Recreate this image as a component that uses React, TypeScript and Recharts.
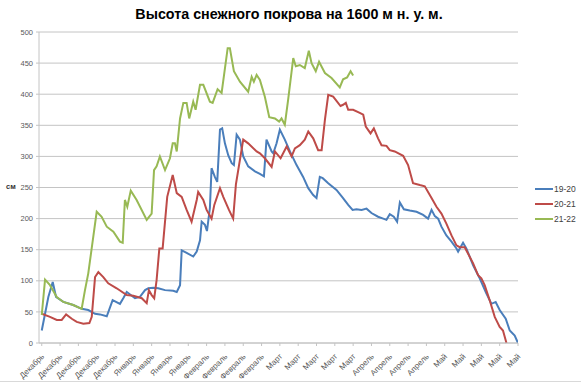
import React from 'react';
import { LineChart, Line, XAxis, YAxis, CartesianGrid } from 'recharts';

const titleText = 'Высота снежного покрова на 1600 м н. у. м.';
const yUnit = 'см';
const seriesNames = ['19-20', '20-21', '21-22'];
const seriesColors = ['#4A7EBB', '#BE4B48', '#98B954'];

const tickLabels = [
  'Декабрь', 'Декабрь', 'Декабрь', 'Декабрь', 'Декабрь',
  'Январь', 'Январь', 'Январь', 'Январь',
  'Февраль', 'Февраль', 'Февраль', 'Февраль',
  'Март', 'Март', 'Март', 'Март', 'Март',
  'Апрель', 'Апрель', 'Апрель', 'Апрель',
  'Май', 'Май', 'Май', 'Май', 'Май',
];
const yTicks = [0, 50, 100, 150, 200, 250, 300, 350, 400, 450, 500];

// positions in weeks (tick index) and snow depth in cm
const weeks1920 = [0, 0.36, 0.6, 0.78, 1.18, 1.72, 2.18, 2.54, 2.91, 3.18, 3.55, 3.87, 4.27, 4.45, 4.64, 5.09, 5.36, 5.64, 5.82, 6.09, 6.36, 6.73, 7.18, 7.37, 7.55, 7.64, 7.91, 8.27, 8.46, 8.64, 8.73, 8.91, 9.02, 9.18, 9.27, 9.45, 9.58, 9.73, 9.85, 10.0, 10.18, 10.37, 10.49, 10.64, 10.82, 11.0, 11.27, 11.64, 11.91, 12.13, 12.27, 12.55, 12.64, 12.82, 13.0, 13.27, 13.55, 13.91, 14.27, 14.55, 14.82, 15.0, 15.18, 15.34, 15.64, 16.09, 16.45, 16.73, 16.97, 17.18, 17.46, 17.73, 18.0, 18.36, 18.64, 18.82, 19.0, 19.22, 19.4, 19.55, 19.77, 20.09, 20.46, 20.82, 21.09, 21.28, 21.46, 21.64, 21.82, 22.09, 22.37, 22.64, 22.73, 23.0, 23.18, 23.55, 23.91, 24.27, 24.55, 24.78, 25.0, 25.33, 25.55, 25.82, 26.0];
const depth1920 = [20, 74, 98, 74, 66, 61, 55, 53, 47, 46, 43, 69, 63, 72, 82, 72, 74, 85, 88, 89, 88, 85, 84, 82, 93, 149, 145, 139, 147, 165, 195, 190, 180, 217, 281, 267, 259, 343, 345, 321, 302, 289, 286, 335, 327, 300, 284, 276, 272, 268, 327, 308, 305, 321, 343, 327, 308, 286, 267, 249, 238, 233, 267, 265, 257, 246, 233, 222, 214, 215, 214, 216, 209, 203, 200, 198, 207, 203, 195, 226, 215, 213, 211, 206, 200, 214, 204, 200, 187, 173, 163, 152, 147, 161, 152, 125, 104, 80, 63, 66, 53, 39, 20, 12, 0];

const weeks2021 = [0, 0.45, 0.82, 1.09, 1.33, 1.64, 1.91, 2.27, 2.6, 2.73, 2.91, 3.09, 3.36, 3.63, 4.09, 4.64, 5.0, 5.46, 5.73, 5.85, 6.0, 6.14, 6.27, 6.42, 6.6, 6.85, 7.15, 7.37, 7.64, 7.91, 8.18, 8.46, 8.54, 8.82, 9.0, 9.27, 9.42, 9.73, 9.91, 10.22, 10.45, 10.6, 11.0, 11.27, 11.73, 11.91, 12.18, 12.55, 12.73, 13.04, 13.37, 13.64, 13.82, 14.09, 14.36, 14.55, 14.82, 15.09, 15.28, 15.46, 15.64, 15.91, 16.31, 16.45, 16.6, 16.73, 17.0, 17.36, 17.55, 17.69, 17.95, 18.13, 18.36, 18.55, 18.82, 19.0, 19.27, 19.73, 20.0, 20.27, 20.64, 20.91, 21.28, 21.55, 21.82, 22.09, 22.37, 22.64, 22.82, 23.09, 23.27, 23.55, 23.82, 24.0, 24.18, 24.45, 24.73, 25.0, 25.18, 25.37];
const depth2021 = [47, 42, 37, 37, 46, 39, 34, 31, 32, 42, 106, 114, 106, 96, 88, 77, 76, 72, 64, 85, 77, 72, 101, 152, 152, 235, 270, 241, 235, 214, 195, 230, 243, 230, 214, 200, 222, 249, 235, 214, 200, 255, 327, 321, 308, 305, 297, 283, 308, 297, 316, 300, 313, 318, 327, 340, 329, 310, 310, 359, 399, 396, 381, 383, 386, 375, 375, 370, 367, 348, 337, 345, 329, 318, 317, 310, 308, 301, 286, 257, 254, 252, 233, 219, 208, 192, 173, 157, 154, 154, 144, 128, 109, 104, 93, 69, 42, 26, 20, 0];

const weeks2122 = [0, 0.18, 0.45, 0.82, 1.18, 1.72, 2.18, 2.36, 2.54, 3.0, 3.27, 3.55, 3.91, 4.27, 4.42, 4.54, 4.67, 4.86, 5.18, 5.73, 6.0, 6.13, 6.27, 6.45, 6.73, 7.0, 7.15, 7.27, 7.37, 7.55, 7.73, 7.91, 8.05, 8.27, 8.4, 8.64, 8.82, 9.18, 9.33, 9.6, 9.82, 10.15, 10.27, 10.49, 10.82, 11.27, 11.46, 11.58, 11.73, 11.91, 12.18, 12.42, 12.73, 12.96, 13.09, 13.27, 13.45, 13.73, 13.87, 14.09, 14.36, 14.58, 14.73, 14.96, 15.14, 15.46, 15.82, 16.27, 16.45, 16.67, 16.86, 17.0];
const depth2122 = [45, 102, 93, 74, 66, 61, 55, 85, 112, 211, 203, 187, 179, 163, 161, 230, 219, 245, 230, 198, 208, 278, 284, 300, 278, 297, 321, 321, 308, 361, 386, 386, 361, 388, 375, 415, 415, 388, 386, 408, 402, 474, 474, 437, 420, 404, 428, 420, 431, 423, 396, 363, 361, 356, 361, 351, 391, 458, 445, 447, 442, 470, 450, 437, 452, 434, 426, 411, 424, 427, 437, 430];

const toRows = (w: number[], d: number[]) => w.map((x, i) => ({ w: x, v: d[i] }));
const seriesData = [toRows(weeks1920, depth1920), toRows(weeks2021, depth2021), toRows(weeks2122, depth2122)];

const FONT = '"Liberation Sans", Arial, sans-serif';

const XTick = (props: any) => {
  const { x, y, payload } = props;
  const lx = x + 3;
  const ly = y + 9;
  return (
    <text x={lx} y={ly} transform={`rotate(-45 ${lx} ${ly})`} textAnchor="end" fontSize={8} fill="#595959" fontFamily={FONT}>
      {tickLabels[payload.value]}
    </text>
  );
};

export default function App() {
  return (
    <div style={{ position: 'absolute', left: 0, top: 0, width: 581, height: 385, background: '#fff', fontFamily: FONT }}>
      <div style={{ position: 'absolute', left: 0, top: 6, width: 578, textAlign: 'center', fontSize: 14.3, fontWeight: 'bold', color: '#000' }}>
        {titleText}
      </div>
      <div style={{ position: 'absolute', left: 6, top: 182, fontSize: 7.5, fontWeight: 'bold', color: '#333' }}>{yUnit}</div>
      <LineChart width={581} height={385} margin={{ top: 32, right: 63, left: 0, bottom: 0 }}>
        <CartesianGrid vertical={false} stroke="#c4c4c4" strokeWidth={1} />
        <XAxis
          dataKey="w"
          type="number"
          domain={[-0.15, 26]}
          allowDataOverflow
          ticks={tickLabels.map((_, i) => i)}
          interval={0}
          tick={<XTick />}
          tickSize={3}
          stroke="#c4c4c4"
          height={42}
        />
        <YAxis
          type="number"
          domain={[0, 500]}
          ticks={yTicks}
          width={39}
          tickSize={3}
          tickMargin={3}
          stroke="#c4c4c4"
          tick={{ fontSize: 7.5, fill: '#595959', fontFamily: FONT }}
        />
        {seriesNames.map((name, i) => (
          <Line
            key={name}
            data={seriesData[i]}
            dataKey="v"
            name={name}
            type="linear"
            stroke={seriesColors[i]}
            strokeWidth={2}
            dot={false}
            isAnimationActive={false}
          />
        ))}
      </LineChart>
      <div style={{ position: 'absolute', left: 535, top: 181 }}>
        {seriesNames.map((name, i) => (
          <div key={name} style={{ display: 'flex', alignItems: 'center', height: 15 }}>
            <div style={{ width: 18, height: 2, background: seriesColors[i] }} />
            <span style={{ fontSize: 8.5, color: '#404040', marginLeft: 1 }}>{name}</span>
          </div>
        ))}
      </div>
      <div style={{ position: 'absolute', left: 0, top: 381, width: 581, height: 1, background: '#d9d9d9' }} />
    </div>
  );
}
